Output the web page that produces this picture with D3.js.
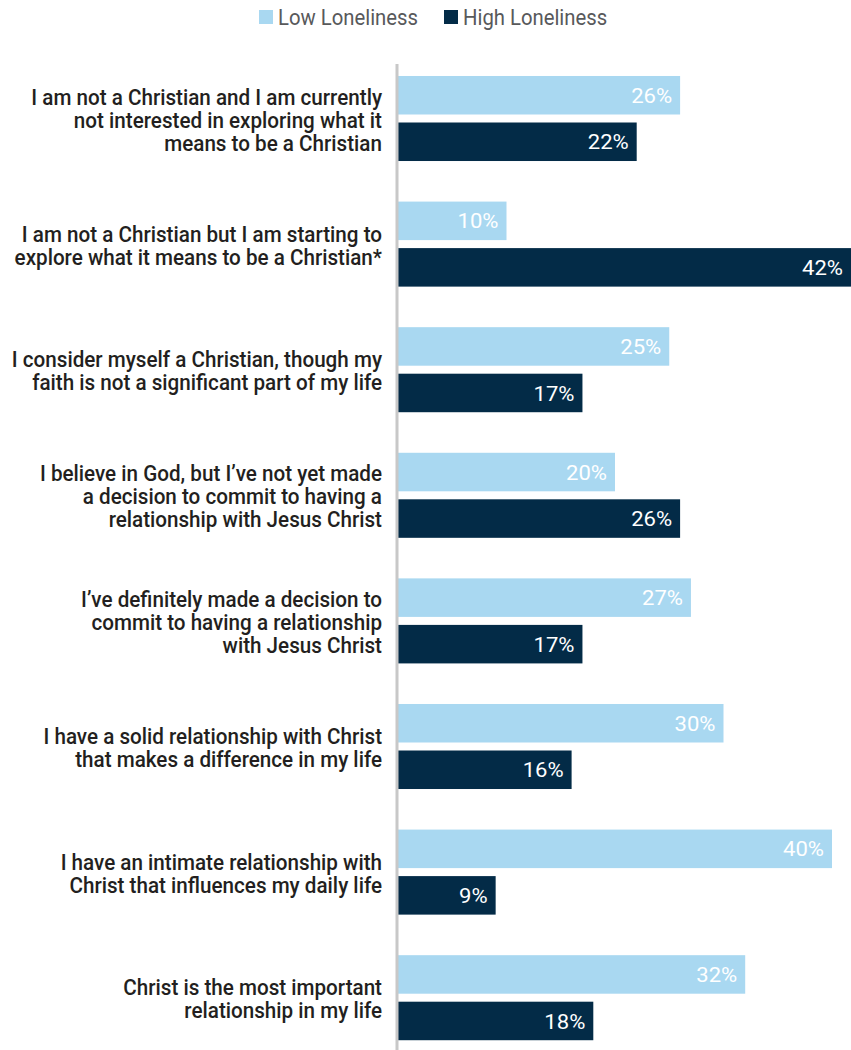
<!DOCTYPE html>
<html>
<head>
<meta charset="utf-8">
<script src="https://cdn.jsdelivr.net/npm/d3@7"></script>
<style>
  body { margin: 0; background: #fff; }
  svg { display: block; }
</style>
</head>
<body>
<div id="chart"></div>
<script>
const categories = [
    ["I am not a Christian and I am currently", "not interested in exploring what it", "means to be a Christian"],
    ["I am not a Christian but I am starting to", "explore what it means to be a Christian*"],
    ["I consider myself a Christian, though my", "faith is not a significant part of my life"],
    ["I believe in God, but I\u2019ve not yet made", "a decision to commit to having a", "relationship with Jesus Christ"],
    ["I\u2019ve definitely made a decision to", "commit to having a relationship", "with Jesus Christ"],
    ["I have a solid relationship with Christ", "that makes a difference in my life"],
    ["I have an intimate relationship with", "Christ that influences my daily life"],
    ["Christ is the most important", "relationship in my life"]
];
const seriesNames = ["Low Loneliness", "High Loneliness"];
const lowValues = [26, 10, 25, 20, 27, 30, 40, 32];
const highValues = [22, 42, 17, 26, 17, 16, 9, 18];

const width = 851, height = 1050;
const colors = { "Low Loneliness": "#a9d8f1", "High Loneliness": "#032b47" };
const font = "Roboto, 'Liberation Sans', Arial, sans-serif";

const data = categories.map((c, i) => ({
    id: i,
    lines: c,
    values: [
        { key: seriesNames[0], value: lowValues[i] },
        { key: seriesNames[1], value: highValues[i] }
    ]
}));

const svg = d3.select("#chart").append("svg")
    .attr("width", width)
    .attr("height", height);

// helper: how much to squeeze a font so a sample string gets a target width
function squeeze(sample, size, weight, target) {
    const t = svg.append("text")
        .attr("font-family", font)
        .attr("font-size", size)
        .attr("font-weight", weight)
        .text(sample);
    const w = t.node().getComputedTextLength();
    t.remove();
    return target / w;
}
const kLabel = squeeze(categories[0][0], "22.5px", 500, 351);
const kValue = squeeze("26%", "21px", 400, 41);
const kLegend = squeeze("Low Loneliness", "22px", 400, 140);

// scales
const x = d3.scaleLinear().domain([0, 1]).range([398, 398 + 1085]);
const y0 = d3.scaleBand()
    .domain(data.map(d => d.id))
    .range([55.7, 55.7 + 8 * 125.6])
    .paddingInner(0.323)
    .paddingOuter(0.1615);
const y1 = d3.scaleBand()
    .domain(seriesNames)
    .range([0, y0.bandwidth()])
    .paddingInner(0.172);

// bars
const groups = svg.append("g")
    .selectAll("g.group")
    .data(data)
    .join("g")
    .attr("class", "group")
    .attr("transform", d => `translate(0,${y0(d.id)})`);

groups.selectAll("rect")
    .data(d => d.values)
    .join("rect")
    .attr("x", x(0))
    .attr("y", d => y1(d.key))
    .attr("width", d => x(d.value / 100) - x(0))
    .attr("height", y1.bandwidth())
    .attr("fill", d => colors[d.key]);

groups.selectAll("text.val")
    .data(d => d.values)
    .join("text")
    .attr("class", "val")
    .attr("transform", d => `translate(${Math.min(x(d.value / 100), width) - 8},${y1(d.key) + y1.bandwidth() / 2}) scale(${kValue},1)`)
    .attr("dy", "0.36em")
    .attr("text-anchor", "end")
    .attr("fill", "#fff")
    .attr("font-family", font)
    .attr("font-size", "21px")
    .text(d => d.value + "%");

// category labels
const lineH = 23;
groups.append("text")
    .attr("transform", `translate(382,0) scale(${kLabel},1)`)
    .attr("text-anchor", "end")
    .attr("font-family", font)
    .attr("font-size", "22.5px")
    .attr("font-weight", 500)
    .attr("fill", "#231f20")
    .selectAll("tspan")
    .data(d => d.lines.map((l, i) => ({ l, i, n: d.lines.length })))
    .join("tspan")
    .attr("x", 0)
    .attr("y", d => y0.bandwidth() / 2 + 1 + (d.i - (d.n - 1) / 2) * lineH)
    .attr("dy", "0.36em")
    .text(d => d.l);

// axis line
svg.append("line")
    .attr("x1", 397).attr("x2", 397)
    .attr("y1", 64).attr("y2", height)
    .attr("stroke", "#c8c8c8")
    .attr("stroke-width", 3);

// legend
const legend = svg.append("g");
const legendX = [259, 444];
seriesNames.forEach((s, i) => {
    legend.append("rect")
        .attr("x", legendX[i])
        .attr("y", 10)
        .attr("width", 14)
        .attr("height", 14)
        .attr("fill", colors[s]);
    legend.append("text")
        .attr("transform", `translate(${legendX[i] + 19},17) scale(${kLegend},1)`)
        .attr("dy", "0.36em")
        .attr("font-family", font)
        .attr("font-size", "22px")
        .attr("fill", "#58595b")
        .text(s);
});
</script>
</body>
</html>
